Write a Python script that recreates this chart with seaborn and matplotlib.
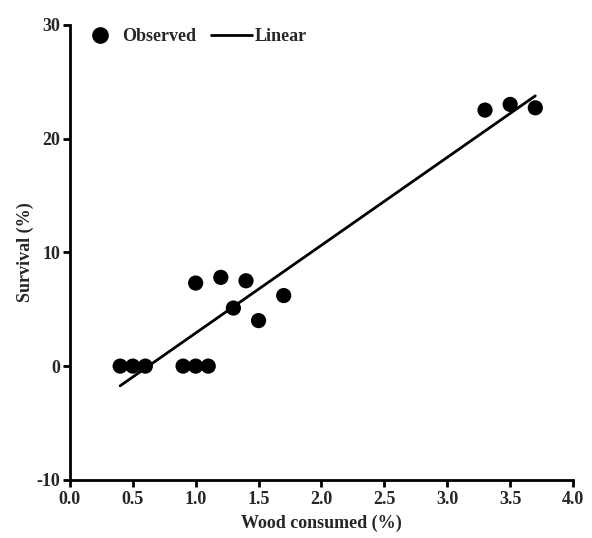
import numpy as np
import pandas as pd
import matplotlib
matplotlib.use("Agg")
import matplotlib.pyplot as plt
from matplotlib.lines import Line2D
import seaborn as sns

wood = [0.4, 0.5, 0.6, 0.9, 1.0, 1.1, 1.0, 1.2, 1.3, 1.4, 1.5, 1.7, 3.3, 3.5, 3.7]
survival = [0.0, 0.0, 0.0, 0.0, 0.0, 0.0, 7.3, 7.8, 5.1, 7.5, 4.0, 6.2, 22.5, 23.0, 22.7]
xticks = [0.0, 0.5, 1.0, 1.5, 2.0, 2.5, 3.0, 3.5, 4.0]
yticks = [-10, 0, 10, 20, 30]

sns.set_style("ticks")
plt.rcParams['font.family'] = ['Liberation Serif', 'DejaVu Serif']
plt.rcParams['font.weight'] = 'bold'
plt.rcParams['axes.unicode_minus'] = False

df = pd.DataFrame({"wood": wood, "survival": survival})

fig = plt.figure(figsize=(5.92, 5.38), dpi=100)
ax = fig.add_axes([0.118, 0.108, 0.850, 0.846])

sns.regplot(data=df, x="wood", y="survival", ax=ax, ci=None, truncate=True,
            scatter_kws=dict(s=120, color="black", edgecolor="none", alpha=1, zorder=3),
            line_kws=dict(color="black", lw=2))

ax.set_xlim(0, 4)
ax.set_ylim(-10, 30)
ax.set_xticks(xticks)
ax.set_xticklabels([f"{v:.1f}" for v in xticks])
ax.set_yticks(yticks)
ax.set_xlabel("Wood consumed (%)", fontsize=13, fontweight="bold", labelpad=5)
ax.set_ylabel("Survival (%)", fontsize=13, fontweight="bold", labelpad=2)
ax.tick_params(axis="both", labelsize=13, width=2, length=5, direction="out", color="black", pad=2)
ax.tick_params(axis="x", pad=3)
for lab in ax.get_xticklabels() + ax.get_yticklabels():
    lab.set_fontweight("bold")
for s in ["top", "right"]:
    ax.spines[s].set_visible(False)
for s in ["left", "bottom"]:
    ax.spines[s].set_linewidth(2)
    ax.spines[s].set_color("black")

handles = [Line2D([], [], marker="o", color="black", linestyle="none", markersize=11),
           Line2D([], [], color="black", lw=2)]
ax.legend(handles, ["Observed", "Linear"], loc="upper left", ncol=2, frameon=False, fontsize=13,
          bbox_to_anchor=(-0.014, 1.028), handlelength=2.3, columnspacing=0.8,
          handletextpad=0.1)

fig.savefig("out.png", dpi=100)
